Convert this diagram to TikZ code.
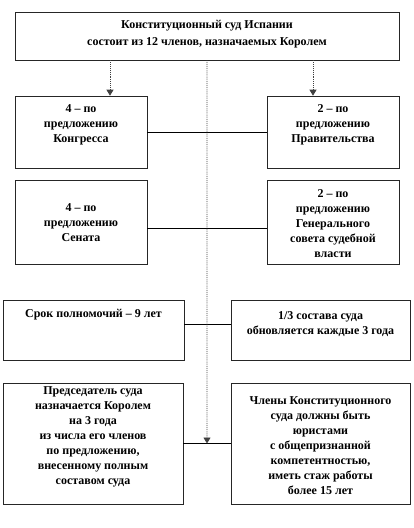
\documentclass[tikz,border=0pt]{standalone}
\usepackage{fontspec}
\setmainfont{Liberation Serif}
\usetikzlibrary{arrows.meta,positioning,calc}
\tikzset{
  frame/.style={
    rectangle, draw=black!85, line width=0.6pt,
    minimum width=#1, inner sep=0pt
  },
  frame/.default=132pt,
  boxtext/.style={
    font=\bfseries\fontsize{12}{15}\selectfont, align=center,
    inner sep=0pt
  },
  feed/.style={
    -{Triangle[length=6pt,width=7pt]}, densely dotted,
    line width=0.9pt, color=black!75
  },
  link/.style={
    line width=0.8pt, color=black
  },
}
\begin{document}
\begin{tikzpicture}[x=1pt, y=-1pt]
  \useasboundingbox (0,0) rectangle (414,528);

  % court
  \node[frame=384pt, minimum height=48pt] (court) at (207,36) {};
  \node[boxtext, font=\bfseries\fontsize{12}{17}\selectfont] (tcourt)
    at ([yshift=1.5pt]court.center)
    {Конституционный суд Испании\\состоит из 12 членов, назначаемых Королем};

  % who proposes
  \node[frame, minimum height=72pt] (b2l) at (81,132) {};
  \node[frame, minimum height=72pt] (b2r) at (333,132) {};
  \node[frame, minimum height=84pt] (b3l) at (81,222) {};
  \node[frame, minimum height=84pt] (b3r) at (333,222) {};
  \node[boxtext] (t2l) at ([yshift=7pt]b2l.center)
    {4 – по\\предложению\\Конгресса};
  \node[boxtext] (t2r) at ([yshift=7pt]b2r.center)
    {2 – по\\предложению\\Правительства};
  \node[boxtext] (t3l) at ([yshift=-1pt]b3l.center)
    {4 – по\\предложению\\Сената};
  \node[boxtext] (t3r) at ([yshift=-2pt]b3r.center)
    {2 – по\\предложению\\Генерального\\совета судебной\\власти};

  % term
  \node[frame=181pt, minimum height=60pt] (b4l) at (93.5,330) {};
  \node[frame=179pt, minimum height=60pt] (b4r) at (320.5,330) {};
  \node[boxtext] (t4l) at ([yshift=15pt]b4l.center)
    {Срок полномочий – 9 лет};
  \node[boxtext] (t4r) at ([yshift=6pt]b4r.center)
    {1/3 состава суда\\обновляется каждые 3 года};

  % chair and members
  \node[frame=180pt, minimum height=121pt] (b5l) at (93,443.5) {};
  \node[frame=179pt, minimum height=121pt] (b5r) at (320.5,443.5) {};
  \node[boxtext] (t5l) at ([yshift=7pt]b5l.center)
    {Председатель суда\\назначается Королем\\на 3 года\\из числа его членов\\по предложению,\\внесенному полным\\составом суда};
  \node[boxtext] (t5r) at ([yshift=-2pt]b5r.center)
    {Члены Конституционного\\суда должны быть\\юристами\\с общепризнанной\\компетентностью,\\иметь стаж работы\\более 15 лет};

  % connectors
  \draw[link] (b2l) -- (b2r);
  \draw[link] ([yshift=-6pt]b3l.east) -- ([yshift=-6pt]b3r.west);
  \draw[link] ([yshift=6pt]b4l.east) -- ([yshift=6pt]b4r.west);
  \draw[link] (b5l) -- (b5r);
  \coordinate (hub) at ($(b5l.east)!0.5!(b5r.west)$);

  \draw[feed] ($(court.south -| b2l.north)+(29,0)$) -- ($(b2l.north)+(29,0)$);
  \draw[feed] ($(court.south -| b2r.north)+(-20,0)$) -- ($(b2r.north)+(-20,0)$);
  \draw[feed] (court.south) -- (hub);
\end{tikzpicture}
\end{document}
